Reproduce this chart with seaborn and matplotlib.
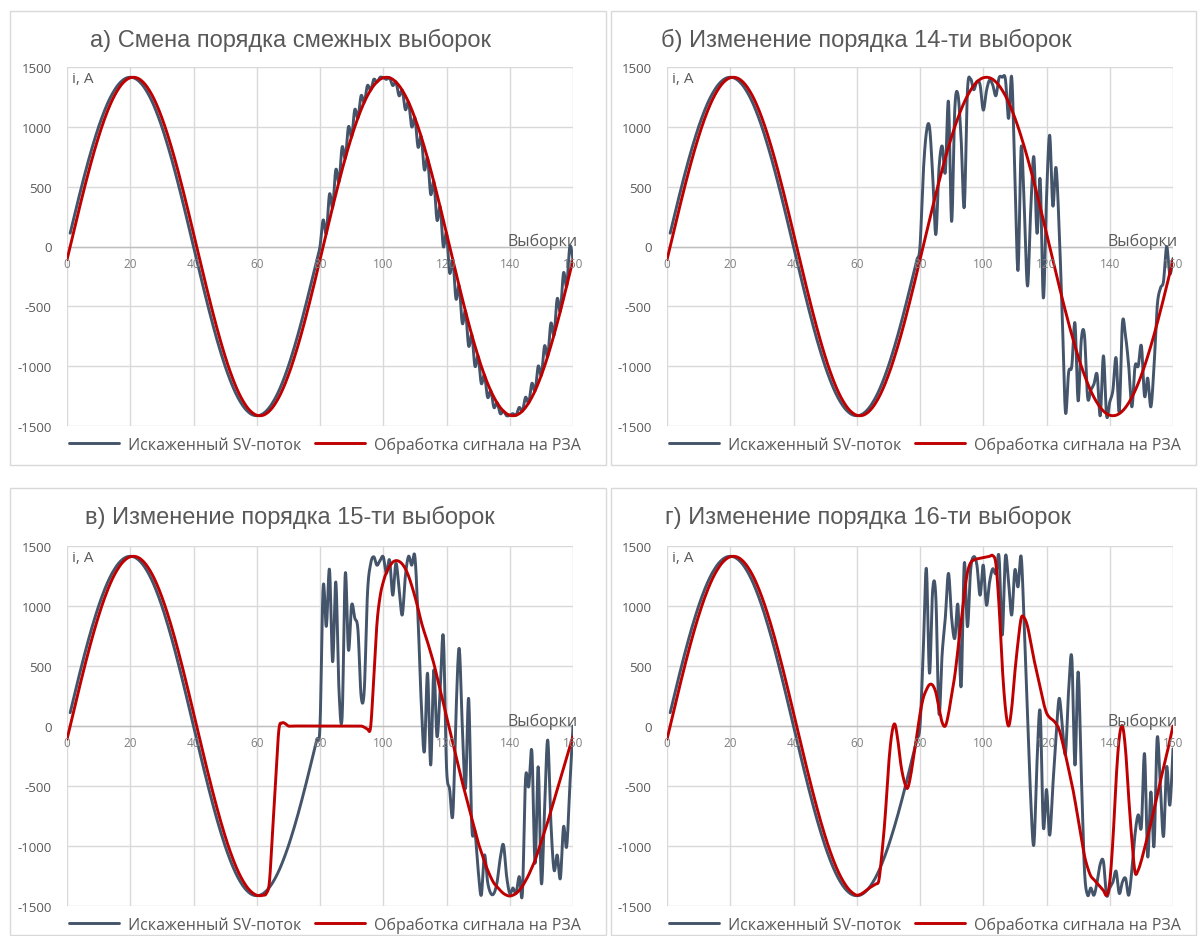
import numpy as np
import matplotlib
matplotlib.use("Agg")
import matplotlib.pyplot as plt
import matplotlib.transforms as mtransforms
from matplotlib.lines import Line2D
from matplotlib.patches import Rectangle
import seaborn as sns

# ---------------- data ----------------
x_ticks = [0, 20, 40, 60, 80, 100, 120, 140, 160]
y_ticks = [1500, 1000, 500, 0, -500, -1000, -1500]

# one clean period of the sampled current (80 samples, A)
clean_period = [
    0, 111, 221, 330, 437, 541, 642, 739, 831, 918,
    1000, 1075, 1144, 1206, 1260, 1306, 1345, 1375, 1397, 1410,
    1414, 1410, 1397, 1375, 1345, 1306, 1260, 1206, 1144, 1075,
    1000, 918, 831, 739, 642, 541, 437, 330, 221, 111,
    0, -111, -221, -330, -437, -541, -642, -739, -831, -918,
    -1000, -1075, -1144, -1206, -1260, -1306, -1345, -1375, -1397, -1410,
    -1414, -1410, -1397, -1375, -1345, -1306, -1260, -1206, -1144, -1075,
    -1000, -918, -831, -739, -642, -541, -437, -330, -221, -111,
]

# distorted SV stream, samples 81..160
blue_a_second = [
    221, 111, 437, 330, 642, 541, 831, 739, 1000, 918,
    1144, 1075, 1260, 1206, 1345, 1306, 1397, 1375, 1414, 1410,
    1397, 1410, 1345, 1375, 1260, 1306, 1144, 1206, 1000, 1075,
    831, 918, 642, 739, 437, 541, 221, 330, 0, 111,
    -221, -111, -437, -330, -642, -541, -831, -739, -1000, -918,
    -1144, -1075, -1260, -1206, -1345, -1306, -1397, -1375, -1414, -1410,
    -1397, -1410, -1345, -1375, -1260, -1306, -1144, -1206, -1000, -1075,
    -831, -918, -642, -739, -437, -541, -221, -330, 0, -111,
]
blue_b_second = [
    600, 950, 1000, 600, 100, 650, 840, 620, 1210, 210,
    1150, 1270, 900, 330, 1300, 1400, 1310, 1380, 1350, 1140,
    1300, 1390, 1350, 1260, 1410, 1414, 1400, 1070, 1414, 600,
    -200, 830, 300, -330, 300, 750, 110, 560, -430, 400,
    930, 340, 660, 150, -600, -1386, -1050, -1000, -640, -1290,
    -780, -740, -1260, -1200, -1150, -1070, -1414, -914, -1414, -1300,
    -1200, -930, -1380, -640, -750, -1000, -1340, -1000, -1000, -830,
    -1250, -1100, -1340, -1000, -500, -350, -290, 0, -230, -100,
]
blue_c_second = [
    1160, 830, 1305, 536, 1200, 300, 78, 1270, 633, 1008,
    900, 800, 250, 300, 1100, 1350, 1410, 1340, 1380, 1410,
    1272, 1383, 1090, 1355, 1150, 925, 1250, 1414, 1340, 1414,
    900, 200, -214, 440, -325, 467, -89, 300, 745, -340,
    -530, -740, 100, 647, 0, -520, 230, -840, -880, -1200,
    -1410, -1075, -1300, -1395, -1395, -1300, -1100, -990, -1250, -1395,
    -1350, -1395, -1255, -1395, -436, -505, -214, -1144, -340, -1311,
    -700, -117, -800, -1200, -1075, -1270, -840, -1005, -500, 0,
]
blue_d_second = [
    600, 1314, 440, 1133, 1078, 105, 600, 900, 1272, 900,
    730, 1008, 328, 1355, 828, 1300, 1411, 1340, 1090, 1340,
    1008, 1200, 1310, 1270, 1410, 758, 1410, 1200, 925, 1300,
    1160, 1410, 800, 100, -600, -990, -300, 120, -840, -530,
    -910, -500, -100, 230, 0, -230, 300, 570, -325, 450,
    -400, -1200, -1410, -1350, -1410, -1300, -1150, -1130, -1410, -1350,
    -1300, -1210, -1395, -1300, -1270, -1410, -1200, -900, -740, -840,
    -230, -1090, -550, -1000, -100, -500, -920, -340, -660, -190,
]

# relay processing output, tails (c: samples 64..160, d: samples 61..160)
red_c_tail = [
    -1300, -880, -450, -30, 25, 20, 0,
    0, 0, 0, 0, 0, 0, 0, 0, 0, 0, 0, 0, 0, 0, 0, 0, 0, 0, 0, 0, 0, 0, 0,
    -10, -25, -10, 400, 850, 1080, 1200,
    1280, 1330, 1365, 1378, 1372, 1350, 1310, 1250, 1170, 1080,
    980, 870, 780, 700, 610, 520, 410, 300, 190, 80,
    -30, -140, -250, -360, -470, -570, -670, -770, -870, -970,
    -1050, -1130, -1200, -1260, -1310, -1340, -1370, -1395, -1410, -1417,
    -1410, -1395, -1370, -1335, -1290, -1240, -1180, -1120, -1040, -960,
    -880, -800, -710, -620, -530, -440, -350, -260, -170, -90,
]
red_d_tail = [
    -1405, -1390, -1370, -1350, -1333, -1317, -1285, -1050, -750, -350,
    -80, 17, -120, -330, -460, -520, -420, -250, -80, 100,
    230, 300, 345, 340, 280, 150, 30, 0, 100, 260,
    420, 640, 870, 1100, 1280, 1360, 1383, 1392, 1398, 1403,
    1408, 1414, 1420, 1350, 1000, 500, 150, 0, 150, 450,
    700, 900, 900, 830, 700, 560, 440, 320, 200, 110,
    70, 50, 20, -30, -130, -240, -360, -480, -620, -780,
    -930, -1080, -1180, -1250, -1280, -1310, -1340, -1370, -1410, -1300,
    -950, -450, -100, 0, -200, -600, -950, -1220, -1200, -1120,
    -1020, -920, -810, -700, -580, -460, -350, -240, -120, 0,
]

titles = [
    "а) Смена порядка смежных выборок",
    "б) Изменение порядка 14-ти выборок",
    "в) Изменение порядка 15-ти выборок",
    "г) Изменение порядка 16-ти выборок",
]
series_names = ["Искаженный SV-поток", "Обработка сигнала на РЗА"]

# assemble series
blue_x = list(range(1, 161))
red_x = list(range(0, 161))
blue_first = clean_period[1:] + [0]
red_lagged = [-111] + clean_period + clean_period
blue_series = [blue_first + blue_a_second, blue_first + blue_b_second,
               blue_first + blue_c_second, blue_first + blue_d_second]
red_series = [red_lagged, red_lagged,
              red_lagged[:64] + red_c_tail, red_lagged[:61] + red_d_tail]
for b, r in zip(blue_series, red_series):
    assert len(b) == 160 and len(r) == 161


def excel_smooth(xs, ys, n=14):
    """Render helper: Excel-like smoothed line (Catmull-Rom Bezier)."""
    x = np.asarray(xs, float)
    y = np.asarray(ys, float)
    xp = np.concatenate([[x[0]], x, [x[-1]]])
    yp = np.concatenate([[y[0]], y, [y[-1]]])
    t = np.linspace(0, 1, n, endpoint=False)
    ox, oy = [], []
    for i in range(len(x) - 1):
        p0 = np.array([xp[i], yp[i]]); p1 = np.array([xp[i + 1], yp[i + 1]])
        p2 = np.array([xp[i + 2], yp[i + 2]]); p3 = np.array([xp[i + 3], yp[i + 3]])
        c1 = p1 + (p2 - p0) / 6.0
        c2 = p2 - (p3 - p1) / 6.0
        b = ((1 - t) ** 3)[:, None] * p1 + (3 * (1 - t) ** 2 * t)[:, None] * c1 \
            + (3 * (1 - t) * t ** 2)[:, None] * c2 + (t ** 3)[:, None] * p2
        ox.extend(b[:, 0]); oy.extend(b[:, 1])
    ox.append(x[-1]); oy.append(y[-1])
    return np.array(ox), np.array(oy)


# ---------------- figure ----------------
sns.set_theme(style="white")
plt.rcParams["font.family"] = ["Open Sans", "DejaVu Sans"]

W, H = 1200, 937
fig = plt.figure(figsize=(W / 100, H / 100), dpi=100)
fig.patch.set_facecolor("white")

BLUE = "#44546A"
RED = "#C00000"
GRID = "#D9D9D9"
TXT = "#595959"

frames = [(10, 12, 596, 454), (611, 12, 585, 454), (10, 489, 596, 447), (611, 489, 585, 447)]
plot_boxes = [(67, 68, 506, 359), (667, 68, 506, 359), (67, 547, 506, 360), (667, 547, 506, 360)]
title_pos = [(290, 40), (866, 40), (290, 517), (868, 517)]

for i in range(4):
    fx, fy, fw, fh = frames[i]
    fig.patches.append(Rectangle((fx / W, 1 - (fy + fh) / H), fw / W, fh / H,
                                 transform=fig.transFigure, facecolor="none",
                                 edgecolor="#D9D9D9", linewidth=1.0, zorder=-5))
    px, py, pw, ph = plot_boxes[i]
    ax = fig.add_axes([px / W, 1 - (py + ph) / H, pw / W, ph / H], zorder=2)
    ax.set_facecolor("none")
    ax.patch.set_alpha(0)
    for s in ax.spines.values():
        s.set_visible(False)
    ax.set_xlim(0, 160)
    ax.set_ylim(-1500, 1500)

    for xv in x_ticks:
        ax.axvline(xv, color=GRID, lw=1.0, zorder=1)
    for yv in y_ticks:
        ax.axhline(yv, color=GRID, lw=1.0, zorder=1)
    ax.axhline(0, color="#BFBFBF", lw=1.0, zorder=1.5)

    bx, by = excel_smooth(blue_x, blue_series[i])
    rx, ry = excel_smooth(red_x, red_series[i])
    sns.lineplot(x=bx, y=by, ax=ax, color=BLUE, linewidth=2.1, sort=False,
                 estimator=None, errorbar=None, zorder=3)
    sns.lineplot(x=rx, y=ry, ax=ax, color=RED, linewidth=2.1, sort=False,
                 estimator=None, errorbar=None, zorder=4)

    ax.set_xticks(x_ticks)
    ax.set_xticklabels([])
    ax.set_yticks(y_ticks)
    ax.set_yticklabels([str(v) for v in y_ticks], fontsize=9.5, color=TXT)
    ax.tick_params(axis="both", length=0)
    ax.tick_params(axis="y", pad=11)
    ax.set_xlabel("")
    ax.set_ylabel("")

    off = mtransforms.offset_copy(ax.transData, fig=fig, x=0, y=-17, units="dots")
    for xv in x_ticks:
        ax.text(xv, 0, str(xv), transform=off, ha="center", va="center",
                fontsize=8.5, color="#7F7F7F", zorder=5)

    blend = mtransforms.blended_transform_factory(ax.transAxes, ax.transData)
    off2 = mtransforms.offset_copy(blend, fig=fig, x=5, y=1, units="dots")
    ax.text(1.0, 0, "Выборки", transform=off2, ha="right", va="baseline",
            fontsize=11.5, color=TXT, zorder=5)
    off3 = mtransforms.offset_copy(ax.transAxes, fig=fig, x=5, y=-4, units="dots")
    ax.text(0, 1, "i, А", transform=off3, ha="left", va="top",
            fontsize=11, color=TXT, zorder=5)

    handles = [Line2D([0], [0], color=BLUE, lw=2.1), Line2D([0], [0], color=RED, lw=2.1)]
    leg = ax.legend(handles, series_names, loc="center", bbox_to_anchor=(0.51, -0.052),
                    ncol=2, frameon=False, fontsize=11.5, handlelength=3.1,
                    handletextpad=0.55, columnspacing=0.9, borderaxespad=0)
    for t in leg.get_texts():
        t.set_color(TXT)

    tx, ty = title_pos[i]
    fig.text(tx / W, 1 - ty / H, titles[i], ha="center", va="center",
             fontsize=17, color=TXT, family=["Liberation Sans", "DejaVu Sans"])

fig.savefig("out.png", dpi=100, facecolor="white")
